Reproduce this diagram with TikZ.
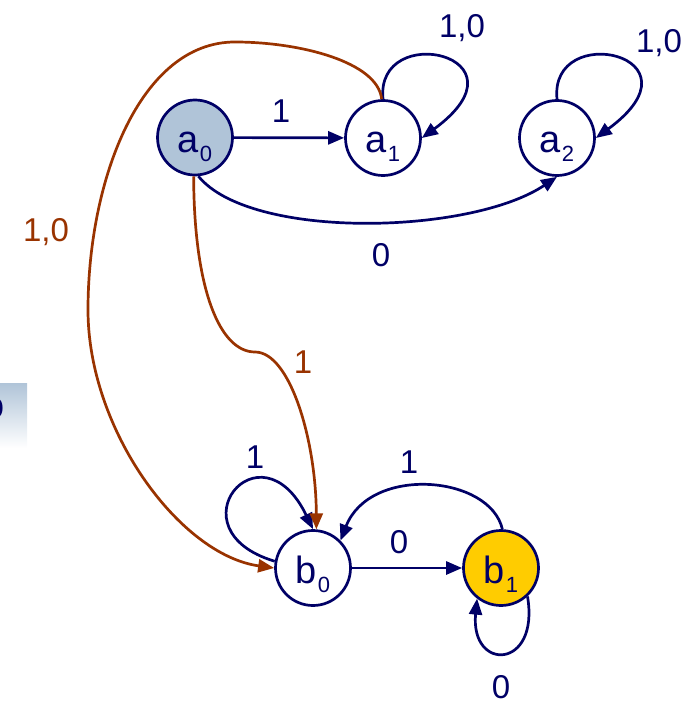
\documentclass[tikz,border=0pt]{standalone}
\usepackage{fontspec}
\setmainfont{Liberation Sans}
\usetikzlibrary{arrows.meta}
\definecolor{navy}{RGB}{0,0,102}
\definecolor{rust}{RGB}{153,51,0}
\definecolor{steel}{RGB}{176,196,216}
\definecolor{gold}{RGB}{255,204,0}
\newcommand{\mysub}[1]{\kern1pt\raisebox{-9pt}{\fontsize{22}{22}\selectfont #1}}
\begin{document}
\begin{tikzpicture}[x=1pt,y=-1pt,
  state/.style={circle,draw=navy,line width=2.7pt,minimum size=75pt,inner sep=0pt,
    font=\fontsize{38}{38}\selectfont,text=navy,text height=30pt,text depth=0pt,fill=white},
  tr/.style={draw=navy,line width=2.7pt,-{Triangle[length=16pt,width=13pt]}},
  trb/.style={draw=rust,line width=2.7pt,-{Triangle[length=16pt,width=13pt]}},
  lbl/.style={font=\fontsize{33}{33}\selectfont,text=navy,anchor=base,inner sep=0pt},
  lblb/.style={lbl,text=rust}]
\useasboundingbox (0,0) rectangle (692,703);
% partial box at left edge
\begin{scope}
\clip (0,383) rectangle (27,450);
\shade[top color=steel,bottom color=white] (-10,383) rectangle (27,448);
\node[text=navy,font=\fontsize{38}{38}\selectfont,anchor=base east,inner sep=0pt] (frag) at (5,418) {o};
\end{scope}
% states
\node[state,fill=steel] (a0) at (195,137.5) {a\mysub{0}};
\node[state] (a1) at (383,138) {a\mysub{1}};
\node[state] (a2) at (557,138) {a\mysub{2}};
\node[state] (b0) at (313,568) {b\mysub{0}};
\node[state,fill=gold] (b1) at (501,568) {b\mysub{1}};
% navy transitions
\draw[tr] (a0) -- (a1);
\draw[tr] (b0) -- (b1);
\draw[tr] (a1.north) .. controls (375,20) and (535,55) .. (a1.east);
\draw[tr] (a2.north) .. controls (549,20) and (709,55) .. (a2.east);
\draw[tr] (a0.-85) .. controls (250,240) and (470,235) .. (a2.south);
\draw[tr] (b0.170) .. controls (170,530) and (260,420) .. (b0.north);
\draw[tr] (b1.88) .. controls (490,475) and (370,465) .. (b0.45);
\draw[tr] (b1.-47) .. controls (540,670) and (470,672) .. (b1.-128);
% brown transitions
\draw[trb] (a0.-92) .. controls (194,290) and (220,352) .. (255,352)
  .. controls (290,352) and (316,440) .. (b0.85);
\draw[trb] (a1.92) .. controls (378,62) and (300,42) .. (235,42)
  .. controls (140,42) and (88,180) .. (88,310)
  .. controls (88,430) and (180,555) .. (b0.west);
% labels
\node[lbl] (l1) at (281,123) {1};
\node[lbl] (l2) at (462,38) {1,0};
\node[lbl] (l3) at (659,53) {1,0};
\node[lbl] (l4) at (381,266) {0};
\node[lblb] (l5) at (46,241) {1,0};
\node[lblb] (l6) at (303,373) {1};
\node[lbl] (l7) at (255,468) {1};
\node[lbl] (l8) at (409,473) {1};
\node[lbl] (l9) at (399,553) {0};
\node[lbl] (l10) at (501,698) {0};
\end{tikzpicture}
\end{document}
